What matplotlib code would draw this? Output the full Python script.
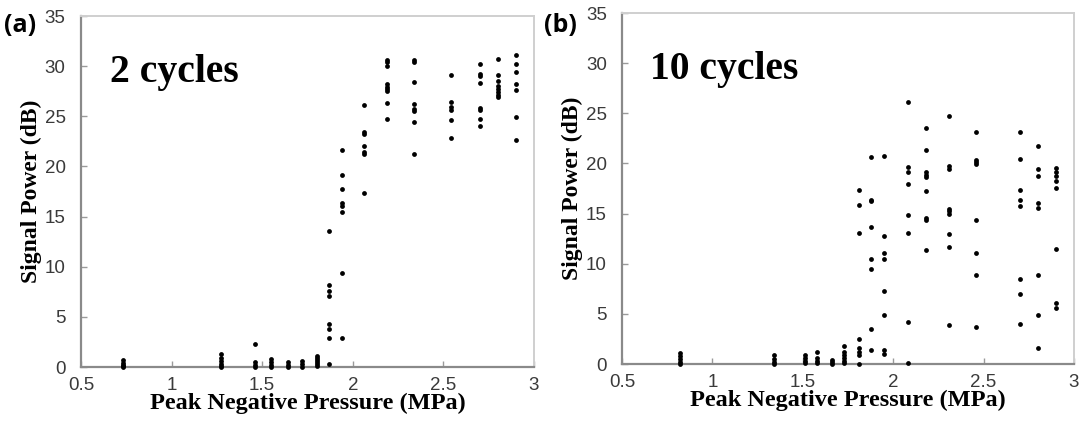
import matplotlib
matplotlib.use("Agg")
import matplotlib.pyplot as plt
import numpy as np

# --- dane: 2 cykle ---
# ciśnienie (MPa) dla każdej kolumny pomiarów i odpowiadające moce sygnału (dB)
p2 = [0.73, 1.27, 1.46, 1.55, 1.64, 1.72, 1.80, 1.87, 1.94, 2.06, 2.19, 2.34, 2.54, 2.70, 2.80, 2.90]
s2 = [
    [0.7, 0.4, 0.2, 0.0, 0.1],
    [1.3, 0.9, 0.6, 0.3, 0.1, 0.0],
    [2.3, 0.5, 0.2, 0.0],
    [0.8, 0.5, 0.2, 0.0],
    [0.5, 0.2, 0.0],
    [0.6, 0.3, 0.0],
    [1.1, 0.9, 0.7, 0.5, 0.3, 0.1],
    [13.6, 8.2, 7.6, 7.1, 4.3, 3.8, 2.9, 0.3],
    [21.6, 19.1, 17.8, 16.4, 16.1, 15.5, 9.4, 2.9],
    [26.1, 23.4, 23.2, 22.0, 21.4, 21.2, 17.4],
    [30.6, 30.4, 30.0, 28.2, 27.9, 27.7, 27.5, 26.3, 24.7],
    [30.6, 30.4, 28.4, 26.2, 25.7, 25.5, 24.4, 21.2],
    [29.1, 26.4, 25.9, 25.6, 24.6, 22.8],
    [30.2, 29.2, 29.0, 28.3, 25.8, 25.6, 24.7, 24.0],
    [30.7, 29.1, 28.5, 28.0, 27.7, 27.4, 27.1, 26.9],
    [31.1, 30.2, 29.4, 28.2, 27.6, 24.9, 22.6],
]

# --- dane: 10 cykli ---
p10 = [0.82, 1.34, 1.51, 1.58, 1.66, 1.73, 1.81, 1.88, 1.95, 2.08, 2.18, 2.31, 2.46, 2.70, 2.80, 2.90]
s10 = [
    [1.1, 0.8, 0.5, 0.2, 0.0],
    [0.9, 0.5, 0.2, 0.0],
    [0.9, 0.6, 0.3, 0.1],
    [1.2, 0.6, 0.3, 0.1],
    [0.4, 0.2, 0.0],
    [1.8, 1.2, 0.9, 0.6, 0.3, 0.1],
    [17.4, 15.9, 13.1, 2.5, 1.6, 1.2, 0.9, 0.0],
    [20.6, 16.4, 16.3, 13.7, 10.5, 9.5, 3.5, 1.4],
    [20.7, 12.8, 11.1, 10.5, 7.3, 4.9, 1.4, 1.0],
    [26.1, 19.6, 19.1, 18.0, 14.9, 13.1, 4.2, 0.1],
    [23.5, 21.3, 19.1, 18.8, 18.6, 17.3, 14.6, 14.4, 11.4],
    [24.7, 19.7, 19.4, 15.5, 15.3, 15.0, 13.0, 11.7, 3.9],
    [23.1, 20.3, 20.1, 19.9, 14.4, 11.1, 8.9, 3.7],
    [23.1, 20.4, 17.4, 16.4, 15.8, 8.5, 7.0, 4.0],
    [21.7, 19.4, 18.7, 16.1, 15.6, 8.9, 4.9, 1.6],
    [19.5, 19.1, 18.7, 18.3, 17.6, 11.5, 6.1, 5.6],
]

x_ticks = [0.5, 1, 1.5, 2, 2.5, 3]
x_tick_labels = ["0.5", "1", "1.5", "2", "2.5", "3"]
y_ticks = [0, 5, 10, 15, 20, 25, 30, 35]

SERIF = "Liberation Serif"
SANS = "Liberation Sans"


def flatten(p, s):
    xs, ys = [], []
    for xv, col in zip(p, s):
        xs += [xv] * len(col)
        ys += col
    return np.array(xs), np.array(ys)


def style_axes(ax):
    ax.set_xlim(0.5, 3)
    ax.set_ylim(0, 35)
    ax.set_xticks(x_ticks)
    ax.set_xticklabels(x_tick_labels)
    ax.set_yticks(y_ticks)
    for side in ("left", "bottom"):
        ax.spines[side].set_color("#8a8a8a")
        ax.spines[side].set_linewidth(1.6)
    for side in ("top", "right"):
        ax.spines[side].set_color("#cfcfcf")
        ax.spines[side].set_linewidth(1.4)
    ax.tick_params(direction="in", length=4, width=1, color="#9a9a9a",
                   labelsize=13.5, labelcolor="#3a3a3a")
    ax.tick_params(axis="x", pad=7)
    ax.tick_params(axis="y", pad=11)
    for lbl in ax.get_xticklabels() + ax.get_yticklabels():
        lbl.set_fontfamily(SANS)
    ax.set_xlabel("Peak Negative Pressure (MPa)", fontfamily=SERIF,
                  fontweight="bold", fontsize=17.5, labelpad=-1)
    ax.set_ylabel("Signal Power (dB)", fontfamily=SERIF,
                  fontweight="bold", fontsize=17, labelpad=2)


fig = plt.figure(figsize=(10.81, 4.22), dpi=100)
ax1 = fig.add_axes([0.0749, 0.1303, 0.4191, 0.8317])
ax2 = fig.add_axes([0.5754, 0.1374, 0.4181, 0.8317])

for ax, p, s, title in ((ax1, p2, s2, "2 cycles"), (ax2, p10, s10, "10 cycles")):
    xs, ys = flatten(p, s)
    ax.scatter(xs, ys, s=12, color="black", linewidths=0, zorder=3, clip_on=False)
    style_axes(ax)
    ax.text(0.063, 0.84, title, transform=ax.transAxes, fontfamily=SERIF,
            fontweight="bold", fontsize=28.5, va="center", ha="left")

# oznaczenia paneli
fig.text(0.004, 0.94, "(a)", fontfamily="Open Sans", fontweight="bold", fontsize=18, va="center")
fig.text(0.503, 0.94, "(b)", fontfamily="Open Sans", fontweight="bold", fontsize=18, va="center")

fig.savefig("out.png", dpi=100)
